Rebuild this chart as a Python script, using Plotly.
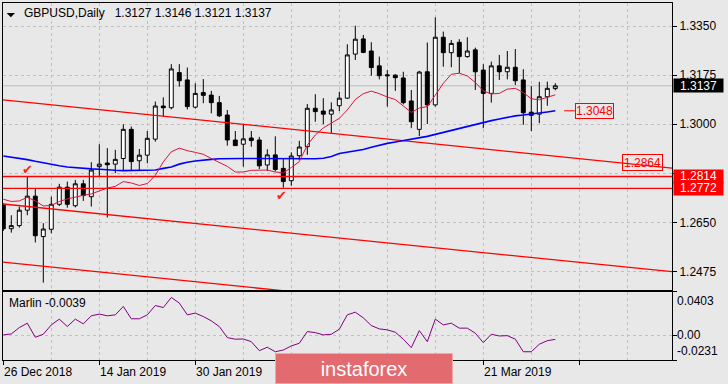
import plotly.graph_objects as go

# ---------------- data ----------------
bars = list(range(70))
opens = [1.2713, 1.2628, 1.2639, 1.2694, 1.2744, 1.2600, 1.2626, 1.2715, 1.2776, 1.2710,
         1.2788, 1.2742, 1.2849, 1.2862, 1.2858, 1.2878, 1.2982, 1.2870, 1.2890, 1.2947,
         1.3065, 1.3059, 1.3184, 1.3158, 1.3061, 1.3113, 1.3104, 1.3077, 1.3033, 1.2944,
         1.2929, 1.2951, 1.2944, 1.2855, 1.2891, 1.2843, 1.2799, 1.2888, 1.2920, 1.3057,
         1.3047, 1.3036, 1.3066, 1.3093, 1.3250, 1.3304, 1.3261, 1.3208, 1.3176, 1.3175,
         1.3165, 1.3083, 1.2982, 1.3187, 1.3069, 1.3310, 1.3255, 1.3292, 1.3241, 1.3265,
         1.3193, 1.3110, 1.3208, 1.3187, 1.3203, 1.3158, 1.3043, 1.3036, 1.3098, 1.3127]
highs = [1.2720, 1.2676, 1.2707, 1.2814, 1.2769, 1.2648, 1.2742, 1.2788, 1.2796, 1.2802,
         1.2802, 1.2865, 1.2929, 1.2915, 1.2909, 1.3000, 1.2992, 1.2912, 1.2976, 1.3081,
         1.3096, 1.3214, 1.3214, 1.3202, 1.3146, 1.3161, 1.3119, 1.3101, 1.3051, 1.2976,
         1.2998, 1.2976, 1.2955, 1.2911, 1.2957, 1.2877, 1.2900, 1.2941, 1.3072, 1.3107,
         1.3093, 1.3078, 1.3116, 1.3285, 1.3351, 1.3318, 1.3292, 1.3241, 1.3193, 1.3178,
         1.3187, 1.3122, 1.3190, 1.3291, 1.3381, 1.3330, 1.3300, 1.3303, 1.3310, 1.3273,
         1.3214, 1.3223, 1.3247, 1.3261, 1.3268, 1.3196, 1.3136, 1.3151, 1.3152, 1.3146]
lows = [1.2620, 1.2614, 1.2632, 1.2676, 1.2579, 1.2436, 1.2612, 1.2709, 1.2703, 1.2704,
        1.2727, 1.2707, 1.2814, 1.2668, 1.2826, 1.2837, 1.2837, 1.2834, 1.2861, 1.2938,
        1.3027, 1.3053, 1.3134, 1.3053, 1.3056, 1.3075, 1.3039, 1.3026, 1.2924, 1.2923,
        1.2849, 1.2920, 1.2840, 1.2834, 1.2832, 1.2774, 1.2781, 1.2873, 1.2891, 1.3009,
        1.3000, 1.2968, 1.3047, 1.3090, 1.3229, 1.3253, 1.3173, 1.3160, 1.3063, 1.3119,
        1.3071, 1.2986, 1.2958, 1.3001, 1.3063, 1.3205, 1.3203, 1.3182, 1.3237, 1.3122,
        1.2986, 1.3077, 1.3158, 1.3160, 1.3140, 1.2998, 1.2976, 1.3004, 1.3066, 1.3121]
closes = [1.2628, 1.2639, 1.2694, 1.2744, 1.2603, 1.2627, 1.2715, 1.2776, 1.2715, 1.2788,
          1.2746, 1.2837, 1.2858, 1.2856, 1.2875, 1.2982, 1.2867, 1.2890, 1.2950, 1.3065,
          1.3059, 1.3197, 1.3155, 1.3063, 1.3110, 1.3103, 1.3077, 1.3030, 1.2944, 1.2924,
          1.2948, 1.2942, 1.2852, 1.2891, 1.2839, 1.2796, 1.2887, 1.2919, 1.3057, 1.3045,
          1.3036, 1.3051, 1.3093, 1.3247, 1.3303, 1.3256, 1.3202, 1.3173, 1.3173, 1.3166,
          1.3077, 1.3009, 1.3186, 1.3069, 1.3310, 1.3255, 1.3288, 1.3241, 1.3261, 1.3187,
          1.3110, 1.3208, 1.3187, 1.3203, 1.3155, 1.3041, 1.3032, 1.3098, 1.3128, 1.3137]
ma_fast = [1.2733, 1.2725, 1.2727, 1.2740, 1.2727, 1.2709, 1.2711, 1.2725, 1.2734, 1.2741,
           1.2747, 1.2752, 1.2763, 1.2773, 1.2779, 1.2796, 1.2791, 1.2782, 1.2789, 1.2818,
           1.2866, 1.2902, 1.2915, 1.2906, 1.2900, 1.2893, 1.2878, 1.2864, 1.2850, 1.2830,
           1.2830, 1.2836, 1.2837, 1.2837, 1.2830, 1.2827, 1.2846, 1.2867, 1.2926, 1.2962,
           1.2987, 1.3005, 1.3021, 1.3051, 1.3088, 1.3109, 1.3118, 1.3109, 1.3097, 1.3088,
           1.3065, 1.3042, 1.3058, 1.3063, 1.3104, 1.3146, 1.3178, 1.3182, 1.3172, 1.3149,
           1.3119, 1.3108, 1.3110, 1.3125, 1.3128, 1.3113, 1.3091, 1.3087, 1.3096, 1.3105]
ma_slow = [1.2887, 1.2883, 1.2879, 1.2874, 1.2868, 1.2862, 1.2857, 1.2852, 1.2848, 1.2845,
           1.2843, 1.2841, 1.2840, 1.2837, 1.2836, 1.2835, 1.2835, 1.2835, 1.2835, 1.2837,
           1.2843, 1.2848, 1.2858, 1.2865, 1.2869, 1.2873, 1.2875, 1.2877, 1.2878, 1.2878,
           1.2878, 1.2878, 1.2878, 1.2878, 1.2877, 1.2877, 1.2877, 1.2876, 1.2877, 1.2877,
           1.2879, 1.2885, 1.2896, 1.2901, 1.2905, 1.2910, 1.2918, 1.2926, 1.2932, 1.2937,
           1.2942, 1.2946, 1.2950, 1.2957, 1.2964, 1.2971, 1.2978, 1.2985, 1.2994, 1.3001,
           1.3007, 1.3013, 1.3019, 1.3025, 1.3030, 1.3033, 1.3036, 1.3039, 1.3044, 1.3048]
marlin = [0.0003, 0.0012, 0.0071, 0.0112, -0.0019, 0.0009, 0.0096, 0.0150, 0.0081, 0.0150,
          0.0106, 0.0181, 0.0197, 0.0181, 0.0190, 0.0268, 0.0153, 0.0153, 0.0190, 0.0277,
          0.0258, 0.0352, 0.0300, 0.0190, 0.0206, 0.0174, 0.0134, 0.0081, -0.0022, -0.0037,
          -0.0035, -0.0060, -0.0144, -0.0112, -0.0154, -0.0138, -0.0100, -0.0075, 0.0034, 0.0024,
          0.0003, 0.0009, 0.0056, 0.0190, 0.0215, 0.0162, 0.0090, 0.0059, 0.0050, 0.0028,
          -0.0037, -0.0116, 0.0043, -0.0060, 0.0150, 0.0096, 0.0112, 0.0066, 0.0066, 0.0019,
          -0.0069, 0.0009, -0.0007, -0.0004, -0.0037, -0.0154, -0.0154, -0.0084, -0.0051, -0.0039]

# date ticks every 12 bars; the ones at 15 Feb and 5 Mar sit under the watermark
tick_bars = [0, 12, 24, 60]
tick_labels = ["26 Dec 2018", "14 Jan 2019", "30 Jan 2019", "21 Mar 2019"]

price_ticks = [1.2475, 1.2650, 1.2825, 1.3000, 1.3175, 1.3350]
price_tick_text = ["1.2475", "1.2650", "", "1.3000", "1.3175", "1.3350"]  # 1.2825 hidden by level boxes

trend_x = [-0.04, 83.6]
trend_upper = [1.3087, 1.2844]
trend_mid = [1.2716, 1.2475]
trend_low = [1.2509, 1.2266]
levels = [1.2814, 1.2772]
last_price = 1.3137
ma_label_value = 1.3048
trend_label_value = 1.2864
marlin_last = -0.0039
marlin_range = [-0.0231, 0.0403]

# ---------------- figure ----------------
BG = "#E8E8E8"
GRID = "#C0C0C0"
FONT = "Liberation Sans"
XR = [-0.0375, 83.5875]
YR = [1.24098, 1.34319]

fig = go.Figure()

fig.add_trace(go.Candlestick(
    x=bars, open=opens, high=highs, low=lows, close=closes,
    increasing=dict(line=dict(color="black", width=1), fillcolor="white"),
    decreasing=dict(line=dict(color="black", width=1), fillcolor="black"),
    whiskerwidth=0, hoverinfo="skip", showlegend=False, xaxis="x", yaxis="y"))

for ys in (trend_upper, trend_mid, trend_low):
    fig.add_trace(go.Scatter(x=trend_x, y=ys, mode="lines", line=dict(color="#FF0000", width=1.3),
                             hoverinfo="skip", showlegend=False, xaxis="x", yaxis="y"))

fig.add_trace(go.Scatter(x=bars, y=ma_slow, mode="lines", line=dict(color="#0000FF", width=1.6),
                         hoverinfo="skip", showlegend=False, xaxis="x", yaxis="y"))
fig.add_trace(go.Scatter(x=bars, y=ma_fast, mode="lines", line=dict(color="#DC143C", width=1),
                         hoverinfo="skip", showlegend=False, xaxis="x", yaxis="y"))

fig.add_trace(go.Scatter(x=bars, y=marlin, mode="lines", line=dict(color="#800080", width=1),
                         hoverinfo="skip", showlegend=False, xaxis="x2", yaxis="y2"))

# horizontal lines
fig.add_shape(type="line", xref="x domain", yref="y", x0=0, x1=1, y0=last_price, y1=last_price,
              line=dict(color="#BDBDBD", width=1), layer="below")
for lv in levels:
    fig.add_shape(type="line", xref="x domain", yref="y", x0=0, x1=1, y0=lv, y1=lv,
                  line=dict(color="#FF0000", width=1.3))

# short connector before MA label
fig.add_shape(type="line", xref="x", yref="y", x0=70.1, x1=71.45, y0=ma_label_value, y1=ma_label_value,
              line=dict(color="#FF0000", width=1))

# small title triangle
fig.add_shape(type="path", xref="paper", yref="paper",
              path="M 0.0055 0.9720 L 0.0179 0.9720 L 0.0117 0.9600 Z",
              fillcolor="black", line=dict(width=0))

axis_common = dict(showline=True, mirror=True, linecolor="black", linewidth=1, zeroline=False,
                   automargin=False)

fig.update_layout(
    width=728, height=384,
    margin=dict(l=3, r=56, t=3, b=24, autoexpand=False),
    paper_bgcolor=BG, plot_bgcolor=BG,
    showlegend=False,
    xaxis=dict(domain=[0, 1], anchor="y", range=XR, showticklabels=False, ticks="",
               tick0=0, dtick=6, showgrid=True, gridcolor=GRID, griddash="3px,3px", gridwidth=1,
               rangeslider=dict(visible=False), **axis_common),
    yaxis=dict(domain=[0.1961, 1], anchor="x", side="right", range=YR,
               tickvals=price_ticks, ticktext=price_tick_text,
               ticks="outside", ticklen=4, tickcolor="black",
               tickfont=dict(family=FONT, size=12, color="black"),
               showgrid=True, gridcolor=GRID, griddash="3px,3px", **axis_common),
    xaxis2=dict(domain=[0, 1], anchor="y2", range=XR, showticklabels=False,
                tick0=0, dtick=12, ticks="outside", ticklen=4, tickcolor="black",
                showgrid=True, gridcolor=GRID, griddash="3px,3px",
                minor=dict(tick0=0, dtick=6, showgrid=True, gridcolor=GRID, griddash="3px,3px", ticks=""),
                **axis_common),
    yaxis2=dict(domain=[0, 0.1905], anchor="x2", side="right", range=marlin_range,
                tickvals=[marlin_range[0], 0, marlin_range[1]], showticklabels=False,
                ticks="outside", ticklen=4, tickcolor="black",
                showgrid=True, gridcolor=GRID, griddash="3px,3px", **axis_common),
)

ann = []
tf = dict(family=FONT, size=12, color="black")
ann.append(dict(xref="paper", yref="paper", x=0.0280, y=0.972, xanchor="left", yanchor="middle",
                text="GBPUSD,Daily\u00a0\u00a0 1.3127 1.3146 1.3121 1.3137", showarrow=False, font=tf))
ann.append(dict(xref="paper", yref="paper", x=0.0062, y=0.1588, xanchor="left", yanchor="middle",
                text=f"Marlin {marlin_last:.4f}", showarrow=False, font=tf))
# indicator scale labels
ann.append(dict(xref="paper", yref="y2", x=1, xshift=3, y=marlin_range[1], xanchor="left", yanchor="top",
                text=f"{marlin_range[1]:.4f}", showarrow=False, font=tf))
ann.append(dict(xref="paper", yref="y2", x=1, xshift=3, y=0, xanchor="left", yanchor="middle",
                text="0.00", showarrow=False, font=tf))
ann.append(dict(xref="paper", yref="y2", x=1, xshift=3, y=marlin_range[0], xanchor="left", yanchor="bottom",
                text=f"{marlin_range[0]:.4f}", showarrow=False, font=tf))
# date labels
for b, lab in zip(tick_bars, tick_labels):
    ann.append(dict(xref="x", yref="paper", x=b, xshift=-1, y=-0.0345, xanchor="left", yanchor="middle",
                    text=lab, showarrow=False, font=tf))
# price boxes on the right scale
ann.append(dict(xref="paper", yref="y", x=1, xshift=1, y=last_price, xanchor="left", yanchor="middle",
                text=f"{last_price:.4f}", showarrow=False, bgcolor="black", width=49, height=13,
                borderpad=0, font=dict(family=FONT, size=12, color="white")))
for lv in levels:
    ann.append(dict(xref="paper", yref="y", x=1, xshift=1, y=lv, xanchor="left", yanchor="middle",
                    text=f"{lv:.4f}", showarrow=False, bgcolor="#FF0000", width=49, height=12.5,
                    borderpad=0, font=dict(family=FONT, size=12, color="white")))
# in-chart labels
ann.append(dict(xref="x", yref="y", x=71.45, y=ma_label_value, xanchor="left", yanchor="middle",
                text=f"{ma_label_value:.4f}", showarrow=False, bordercolor="#FF0000", borderwidth=1,
                borderpad=0, width=37, height=14, font=dict(family=FONT, size=12, color="#FF0000")))
ann.append(dict(xref="x", yref="y", x=77.35, y=trend_label_value, xanchor="left", yanchor="middle",
                text=f"{trend_label_value:.4f}", showarrow=False, bordercolor="#FF0000", borderwidth=1,
                borderpad=0, width=39, height=15, font=dict(family=FONT, size=12, color="#FF0000")))
# check marks
for cx, cy in [(3.0, 1.2839), (34.8, 1.2746)]:
    ann.append(dict(xref="x", yref="y", x=cx, y=cy, xanchor="center", yanchor="middle",
                    text="\u2714", showarrow=False, font=dict(family="DejaVu Sans", size=13, color="#FF2020")))
# watermark
ann.append(dict(xref="paper", yref="paper", x=0.5396, y=-0.0238, xanchor="center", yanchor="middle",
                text="instaforex", showarrow=False, bgcolor="#E36B6F", bordercolor="#F0A9AB",
                borderwidth=1, borderpad=0, width=176, height=29,
                font=dict(family=FONT, size=20, color="white")))
fig.update_layout(annotations=ann)

fig.write_html("out.html", config={"displayModeBar": False},
               post_script="document.body.style.margin='0';document.body.style.overflow='hidden';")
